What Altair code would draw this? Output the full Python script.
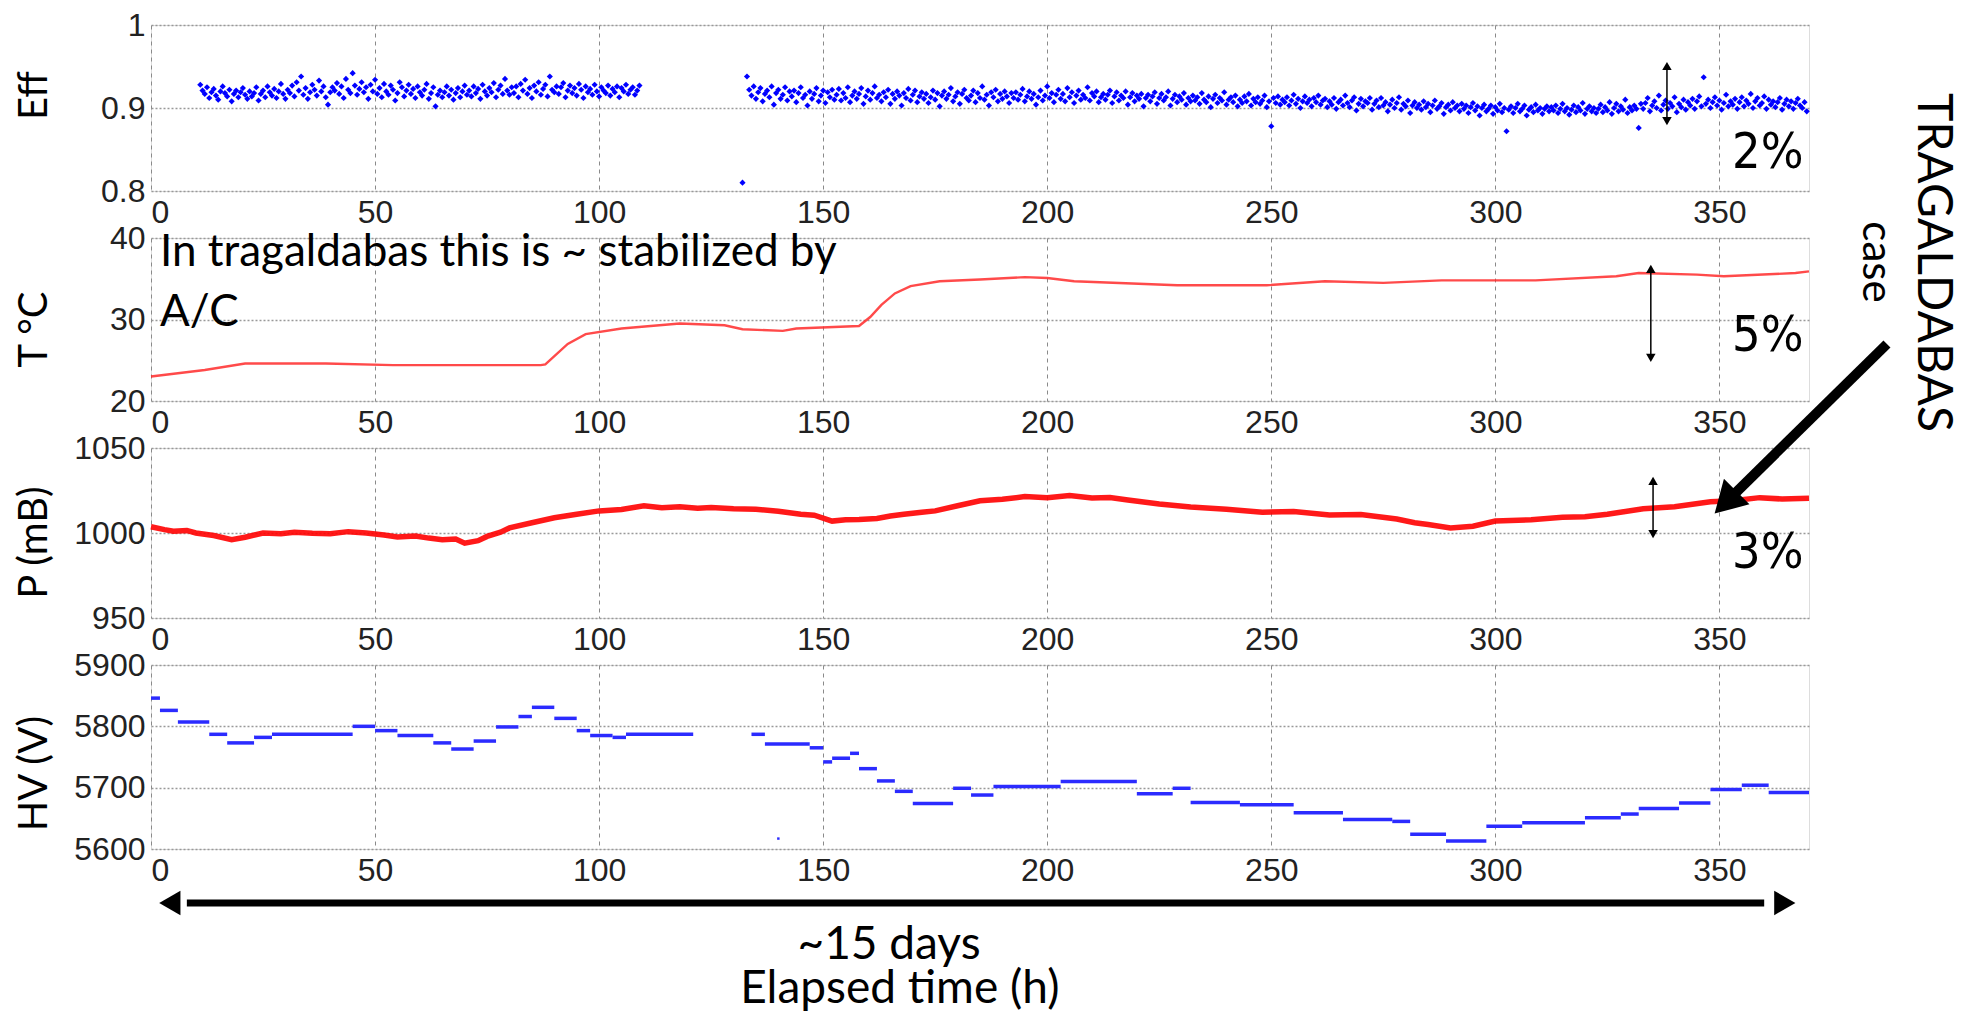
import altair as alt
import pandas as pd

# ---------------- data ----------------
x_ticks = [0, 50, 100, 150, 200, 250, 300, 350]
XMAX = 370

# Efficiency: points every 0.5 h, values in thousandths
eff_seg1_start = 11.0
eff_seg1 = [928, 921, 917, 925, 912, 919, 923, 915, 910, 920, 926, 918, 914, 922, 908, 917, 921, 913, 919, 924,
            916, 911, 920, 914, 918, 925, 909, 917, 921, 913, 926, 919, 915, 923, 912, 920, 929, 917, 911, 922,
            918, 927, 914, 931, 921, 938, 916, 924, 911, 919, 928, 922, 915, 933, 920, 926, 913, 904, 919, 925,
            921, 930, 917, 926, 912, 935, 922, 918, 942, 927, 916, 923, 931, 919, 925, 911, 928, 920, 934, 917,
            924, 913, 929, 920, 916, 927, 922, 909, 918, 931, 925, 914, 921, 928, 917, 923, 912, 926, 919, 915,
            922, 929, 911, 918, 925, 902, 916, 921, 913, 919, 926, 915, 922, 910, 918, 924, 913, 920, 927, 916,
            921, 914, 926, 918, 923, 911, 928, 920, 915, 924, 919, 930, 913, 922, 927, 917, 935, 921, 916, 925,
            918, 926, 913, 929, 921, 934, 917, 924, 912, 927, 920, 931, 916, 923, 928, 914, 938, 922, 919, 926,
            917, 925, 930, 913, 921, 927, 918, 924, 915, 929, 922, 912, 926, 919, 923, 916, 928, 920, 914, 925,
            921, 918, 927, 915, 923, 919, 926, 913, 924, 920, 928, 917, 922, 925, 916, 921, 927]
eff_seg2_start = 133.0
eff_seg2 = [938, 922, 915, 926, 911, 919, 924, 908, 917, 921, 913, 926, 904, 918, 922, 911, 916, 925, 909, 920,
            914, 921, 907, 918, 925, 912, 916, 903, 920, 911, 917, 924, 908, 915, 921, 906, 919, 913, 922, 910,
            916, 923, 909, 918, 912, 925, 907, 915, 920, 911, 917, 924, 905, 914, 921, 910, 918, 926, 912, 916,
            908, 919, 913, 922, 905, 917, 911, 920, 915, 903, 918, 912, 923, 909, 916, 921, 907, 914, 919, 911,
            917, 906, 913, 921, 910, 918, 902, 915, 920, 911, 916, 924, 908, 914, 919, 905, 917, 922, 912, 909,
            915, 921, 907, 918, 912, 926, 910, 916, 903, 919, 913, 922, 908, 917, 911, 920, 914, 906, 918, 912,
            919, 910, 916, 923, 908, 914, 920, 911, 917, 904, 913, 921, 909, 915, 926, 912, 918, 907, 916, 922,
            911, 917, 908, 924, 913, 919, 906, 915, 921, 910, 916, 912, 925, 909, 918, 914, 920, 907, 913, 917,
            910, 916, 921, 906, 914, 919, 909, 915, 912, 920, 904, 913, 918, 908, 915, 911, 917, 902, 912, 916,
            908, 914, 919, 905, 912, 917, 909, 913, 920, 903, 911, 916, 907, 914, 910, 918, 904, 912, 908, 915,
            909, 913, 905, 918, 910, 907, 914, 901, 911, 916, 906, 912, 909, 919, 904, 910, 913, 907, 915, 902,
            910, 906, 914, 908, 917, 903, 911, 907, 913, 905, 909, 915, 901, 908, 878, 912, 906, 914, 904, 910,
            907, 913, 903, 909, 916, 905, 911, 900, 908, 914, 906, 910, 902, 912, 907, 915, 904, 909, 911, 901,
            908, 904, 912, 899, 907, 910, 903, 915, 906, 901, 909, 913, 897, 905, 911, 902, 908, 906, 912, 898,
            905, 909, 901, 912, 903, 907, 896, 904, 910, 900, 906, 913, 898, 905, 902, 909, 894, 903, 907, 900,
            904, 898, 908, 901, 905, 895, 903, 909, 899, 902, 906, 893, 901, 904, 897, 907, 900, 903, 896, 905,
            899, 903, 894, 901, 906, 897, 902, 891, 900, 904, 896, 899, 903, 893, 901, 897, 905, 895, 900, 872,
            898, 902, 894, 900, 905, 896, 899, 903, 891, 898, 901, 895, 904, 897, 900, 893, 899, 902, 896, 901,
            897, 903, 894, 899, 905, 896, 900, 892, 898, 903, 895, 901, 897, 906, 893, 899, 902, 896, 900, 894,
            899, 904, 895, 901, 897, 907, 893, 900, 905, 896, 902, 898, 910, 894, 901, 897, 903, 899, 876, 905,
            899, 906, 912, 896, 903, 908, 900, 915, 897, 904, 909, 899, 906, 902, 913, 895, 905, 901, 910, 898,
            907, 903, 911, 899, 908, 914, 902, 937, 905, 910, 900, 907, 913, 903, 909, 898, 906, 916, 902, 908,
            904, 911, 899, 907, 913, 902, 909, 905, 917, 900, 908, 912, 903, 906, 914, 899, 910, 904, 908, 901,
            907, 912, 898, 905, 910, 902, 908, 899, 906, 911, 903, 900, 907, 896]
eff_step = 0.5
eff_outlier_x = [132.0]
eff_outlier_v = [0.81]

# Temperature (deg C)
t_x = [0, 12, 21, 39, 54, 87, 88, 93, 97, 105, 118, 128, 132, 141, 144, 158, 160.5, 163, 166, 169.5,
       176, 185, 195, 200, 206, 229, 249, 262, 275, 288, 309, 327, 332, 345, 351, 367, 370]
t_v = [23.0, 23.8, 24.6, 24.6, 24.4, 24.4, 24.5, 27.0, 28.2, 28.9, 29.5, 29.3, 28.8, 28.6, 28.9, 29.2, 30.3,
       31.8, 33.2, 34.1, 34.7, 34.9, 35.2, 35.1, 34.7, 34.2, 34.2, 34.7, 34.5, 34.8, 34.8, 35.3, 35.7, 35.5,
       35.3, 35.7, 35.9]

# Pressure (mB)
p_x = [0, 3, 5, 8, 10, 14, 18, 21, 25, 29, 32, 36, 40, 44, 48, 52, 55, 59, 62, 65, 68, 70, 73, 75, 78, 80,
       85, 90, 95, 100, 105, 110, 114, 118, 122, 125, 130, 135, 140, 145, 148, 152, 155, 158, 162, 165, 168,
       172, 175, 180, 185, 190, 195, 200, 205, 210, 214, 218, 225, 232, 240, 248, 255, 263, 270, 278, 282,
       285, 290, 295, 300, 308, 315, 320, 325, 333, 340, 348, 353, 359, 364, 370]
p_v = [1003.7, 1002, 1001, 1001.5, 1000, 998.5, 996, 997.5, 1000, 999.5, 1000.5, 999.8, 999.6, 1000.8, 1000,
       998.8, 997.6, 998.2, 997, 996, 996.5, 994, 995.5, 998, 1000.5, 1003, 1006, 1009, 1011, 1013, 1013.8,
       1016, 1014.8, 1015.5, 1014.6, 1015, 1014.2, 1014, 1012.8, 1011, 1010.5, 1007, 1007.8, 1008, 1008.5,
       1010, 1011, 1012.2, 1013, 1016, 1019, 1019.8, 1021.4, 1020.8, 1022, 1020.6, 1020.9, 1019.4, 1017,
       1015.3, 1014, 1012.2, 1012.6, 1010.6, 1010.9, 1008.2, 1006, 1005, 1003, 1004, 1007, 1007.8, 1009.2,
       1009.6, 1011, 1014.3, 1015.5, 1018.4, 1019, 1020.8, 1020, 1020.4]

# High voltage (V), step values (each holds until the next x)
hv1_x = [0, 2, 6, 13, 17, 23, 27, 45, 50, 55, 63, 67, 72, 77, 82, 85, 90, 95, 98, 103, 106, 121]
hv1_v = [5846, 5826, 5807, 5787, 5773, 5782, 5787, 5800, 5793, 5785, 5773, 5763, 5776, 5799, 5816, 5831,
         5813, 5793, 5785, 5782, 5787, 5787]
hv2_x = [134, 137, 147, 150, 152, 156, 158, 162, 166, 170, 179, 183, 188, 203, 220, 228, 232, 243, 255,
         266, 277, 281, 289, 298, 306, 320, 328, 332, 341, 348, 355, 361, 370]
hv2_v = [5787, 5771, 5765, 5742, 5748, 5756, 5731, 5711, 5694, 5674, 5699, 5688, 5702, 5710, 5690, 5699,
         5676, 5672, 5659, 5648, 5645, 5624, 5613, 5637, 5643, 5651, 5657, 5666, 5675, 5697, 5704, 5692, 5692]
hv_outlier_x = [140]
hv_outlier_v = [5617]

# ---------------- data frames ----------------
eff_rows = []
for i, v in enumerate(eff_seg1):
    eff_rows.append({"x": eff_seg1_start + eff_step * i, "v": v / 1000})
for i, v in enumerate(eff_seg2):
    eff_rows.append({"x": eff_seg2_start + eff_step * i, "v": v / 1000})
for x, v in zip(eff_outlier_x, eff_outlier_v):
    eff_rows.append({"x": x, "v": v})
eff_df = pd.DataFrame(eff_rows)
t_df = pd.DataFrame({"x": t_x, "v": t_v})
p_df = pd.DataFrame({"x": p_x, "v": p_v})

hv_rows = []
for xs_, vs_ in ((hv1_x, hv1_v), (hv2_x, hv2_v)):
    for i in range(len(xs_) - 1):
        hv_rows.append({"x": xs_[i], "x2": xs_[i + 1], "v": vs_[i]})
hv_df = pd.DataFrame(hv_rows)
hv_out_df = pd.DataFrame({"x": hv_outlier_x, "v": hv_outlier_v})

# ---------------- styling ----------------
W = 1658
LBL_FONT = "Liberation Sans"
HAND_FONT = "Comic Sans MS, Lato"
NARROW = "Liberation Sans Narrow, DejaVu Sans Condensed, Liberation Sans"


def xs():
    return alt.Scale(domain=[0, XMAX], nice=False, zero=False)


def xenc(field="x"):
    return alt.X(f"{field}:Q", scale=xs(), title=None,
                 axis=alt.Axis(values=x_ticks, format="d", labelFontSize=32, labelFont=LBL_FONT,
                               labelColor="#222", labelPadding=6, tickSize=0, domain=False,
                               grid=True, gridDash=[4, 4], gridColor="#8a8a8a", gridWidth=1))


def ys(dom):
    return alt.Scale(domain=dom, nice=False, zero=False)


def yenc(dom, vals, fmt, title, ty, field="v"):
    return alt.Y(f"{field}:Q", scale=ys(dom), title=title,
                 axis=alt.Axis(values=vals, format=fmt, labelFontSize=32, labelFont=LBL_FONT,
                               labelColor="#222", labelPadding=6, tickSize=0, domain=False,
                               grid=True, gridDash=[2, 2], gridColor="#999", gridWidth=1.5,
                               titleFont=HAND_FONT, titleFontSize=40, titleFontWeight="normal",
                               titleColor="black", titleAngle=270, titleX=-117, titleY=ty,
                               titleAlign="center", titleBaseline="middle"))


def ann_x(f="x"):
    return alt.X(f"{f}:Q", scale=xs())


def ann_y(dom, f="y"):
    return alt.Y(f"{f}:Q", scale=ys(dom))


def double_arrow(x, ylo, yhi, dom):
    d = pd.DataFrame({"x": [x], "y": [ylo], "y2": [yhi]})
    rule = alt.Chart(d).mark_rule(color="black", strokeWidth=1.5).encode(
        x=ann_x(), y=ann_y(dom), y2="y2:Q")
    top = alt.Chart(d).mark_point(shape="triangle-up", filled=True, color="black", opacity=1, size=90).encode(
        x=ann_x(), y=ann_y(dom, "y2"))
    bot = alt.Chart(d).mark_point(shape="triangle-down", filled=True, color="black", opacity=1, size=90).encode(
        x=ann_x(), y=ann_y(dom))
    return [rule, top, bot]


def pct(x, y, label, dom):
    d = pd.DataFrame({"x": [x], "y": [y], "t": [label]})
    return alt.Chart(d).mark_text(font=NARROW, fontSize=50, color="black", align="center",
                                  baseline="middle").encode(x=ann_x(), y=ann_y(dom), text="t:N")


# ---------------- Eff panel ----------------
EFF_DOM = [0.8, 1.0]
eff_pts = alt.Chart(eff_df).mark_point(shape="diamond", filled=True, color="#0000ff", opacity=1,
                                       size=38).encode(
    x=xenc(), y=yenc(EFF_DOM, [0.8, 0.9, 1.0], "~g", "Eff", 70))
eff_chart = alt.layer(eff_pts, *double_arrow(338.3, 0.8843, 0.9506, EFF_DOM),
                      pct(360.8, 0.8458, "2%", EFF_DOM)).properties(width=W, height=166)

# ---------------- T panel ----------------
T_DOM = [20, 40]
t_line = alt.Chart(t_df).mark_line(color="#ff2a2a", strokeWidth=2.4, opacity=0.85).encode(
    x=xenc(), y=yenc(T_DOM, [20, 30, 40], "d", "T °C", 91))
note_df = pd.DataFrame({"x": [2.0, 2.0], "y": [36.56, 29.2],
                        "t": ["In tragaldabas this is ~ stabilized by", "A/C"]})
note = alt.Chart(note_df).mark_text(font=HAND_FONT, fontSize=44, color="black", align="left",
                                    baseline="alphabetic").encode(x=ann_x(), y=ann_y(T_DOM), text="t:N")
side_df = pd.DataFrame({"x": [397.4, 385.0], "y": [37.0, 37.06], "t": ["TRAGALDABAS", "case"]})
side1 = alt.Chart(side_df.iloc[[0]]).mark_text(font="Lato", fontSize=48, angle=90, color="black",
                                               align="center", baseline="middle").encode(
    x=ann_x(), y=ann_y(T_DOM), text="t:N")
side2 = alt.Chart(side_df.iloc[[1]]).mark_text(font=HAND_FONT, fontSize=42, angle=90, color="black",
                                               align="center", baseline="middle").encode(
    x=ann_x(), y=ann_y(T_DOM), text="t:N")
t_chart = alt.layer(t_line, note, *double_arrow(334.7, 25.28, 36.2, T_DOM),
                    pct(360.8, 27.98, "5%", T_DOM), side1, side2).properties(width=W, height=163)

# ---------------- P panel ----------------
P_DOM = [950, 1050]
p_line = alt.Chart(p_df).mark_line(color="#ff0000", strokeWidth=5.5, opacity=0.9).encode(
    x=xenc(), y=yenc(P_DOM, [950, 1000, 1050], "d", "P (mB)", 94))
big_df = pd.DataFrame({"x": [387.4], "y": [1111.2], "x2": [351.4], "y2": [1017.9]})
big_rule = alt.Chart(big_df).mark_rule(color="black", strokeWidth=10).encode(
    x=ann_x(), y=ann_y(P_DOM), x2="x2:Q", y2="y2:Q")
big_head = alt.Chart(big_df).mark_point(shape="triangle-up", filled=True, color="black", opacity=1,
                                        size=1300, angle=225).encode(x=ann_x("x2"), y=ann_y(P_DOM, "y2"))
p_chart = alt.layer(p_line, *double_arrow(335.2, 999.4, 1030.6, P_DOM),
                    pct(360.8, 988.2, "3%", P_DOM), big_rule, big_head).properties(width=W, height=170)

# ---------------- HV panel ----------------
HV_DOM = [5600, 5900]
hv_line = alt.Chart(hv_df).mark_rule(color="#2b2bff", strokeWidth=3.5).encode(
    x=xenc(), x2="x2:Q", y=yenc(HV_DOM, [5600, 5700, 5800, 5900], "d", "HV (V)", 108))
hv_out = alt.Chart(hv_out_df).mark_point(shape="square", filled=True, color="#2b2bff", opacity=1,
                                         size=6).encode(x=ann_x(), y=ann_y(HV_DOM, "v"))
arr_df = pd.DataFrame({"x": [8.0], "x2": [360.0], "y": [5512], "xl": [4.2], "xr": [364.6]})
arr_rule = alt.Chart(arr_df).mark_rule(color="black", strokeWidth=7).encode(
    x=ann_x(), x2="x2:Q", y=ann_y(HV_DOM))
arr_l = alt.Chart(arr_df).mark_point(shape="triangle-left", filled=True, color="black", opacity=1,
                                     size=600).encode(x=ann_x("xl"), y=ann_y(HV_DOM))
arr_r = alt.Chart(arr_df).mark_point(shape="triangle-right", filled=True, color="black", opacity=1,
                                     size=600).encode(x=ann_x("xr"), y=ann_y(HV_DOM))
bottom_df = pd.DataFrame({"x": [164.7, 167.1], "y": [5420.6, 5349.0], "t": ["~15 days", "Elapsed time (h)"]})
bottom_txt = alt.Chart(bottom_df).mark_text(font=HAND_FONT, fontSize=46, color="black", align="center",
                                            baseline="alphabetic").encode(
    x=ann_x(), y=ann_y(HV_DOM), text="t:N")
hv_chart = alt.layer(hv_line, hv_out, arr_rule, arr_l, arr_r, bottom_txt).properties(width=W, height=184)

chart = alt.vconcat(eff_chart, t_chart, p_chart, hv_chart, spacing=47, bounds="flush").properties(
    padding={"left": 5, "top": 0, "right": 10, "bottom": 0}
).configure_view(stroke="#666", strokeWidth=2.5).configure(background="white")

chart.save("out.html", embed_options={"renderer": "svg", "actions": False})
